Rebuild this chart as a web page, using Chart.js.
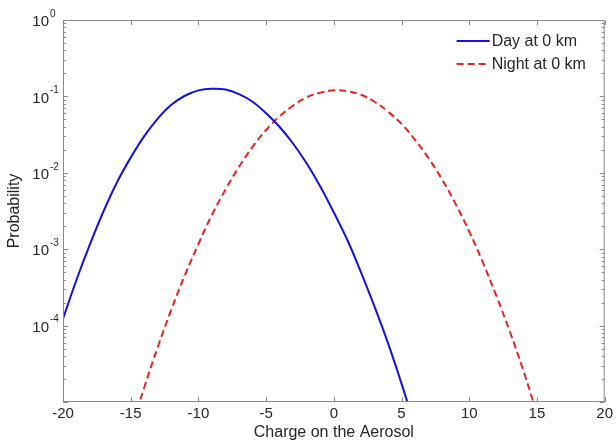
<!DOCTYPE html>
<html>
<head>
<meta charset="utf-8">
<script src="https://cdn.jsdelivr.net/npm/chart.js@4.4.1/dist/chart.umd.min.js"></script>
<style>
  html, body { margin: 0; padding: 0; background: #fff; }
  #wrap { width: 616px; height: 443px; position: relative; }
</style>
</head>
<body>
<div id="wrap"><canvas id="chart"></canvas></div>
<script>
// charge values (x) and probabilities
const dayCharge = [-20, -19, -18, -17, -16, -15, -14, -13, -12, -11, -10, -9, -8, -7, -6, -5, -4, -3, -2, -1, 0, 1, 2, 3, 4, 5, 6];
const dayProb = [1.23e-4, 3.98e-4, 1.17e-3, 3.16e-3, 7.59e-3, 1.58e-2, 3.02e-2, 5.13e-2, 7.76e-2, 1.02e-1, 1.20e-1, 1.26e-1, 1.23e-1, 1.07e-1, 8.51e-2, 6.03e-2, 3.98e-2, 2.40e-2, 1.32e-2, 6.61e-3, 3.02e-3, 1.32e-3, 5.01e-4, 1.78e-4, 5.89e-5, 1.74e-5, 4.68e-6];

const nightCharge = [-15, -14, -13, -12, -11, -10, -9, -8, -7, -6, -5, -4, -3, -2, -1, 0, 1, 2, 3, 4, 5, 6, 7, 8, 9, 10, 11, 12, 13, 14, 15];
const nightProb = [4.17e-6, 1.55e-5, 5.25e-5, 1.62e-4, 4.57e-4, 1.17e-3, 2.82e-3, 6.03e-3, 1.20e-2, 2.19e-2, 3.63e-2, 5.50e-2, 7.59e-2, 9.77e-2, 1.12e-1, 1.20e-1, 1.17e-1, 1.05e-1, 8.51e-2, 6.31e-2, 4.37e-2, 2.69e-2, 1.55e-2, 8.13e-3, 3.89e-3, 1.70e-3, 6.76e-4, 2.45e-4, 8.32e-5, 2.57e-5, 7.08e-6];

const xTicks = [-20, -15, -10, -5, 0, 5, 10, 15, 20];
const yLabelExps = [0, -1, -2, -3, -4];
const seriesNames = ['Day at 0 km', 'Night at 0 km'];

const FONT = '"Liberation Sans", Arial, sans-serif';
const TEXT = '#262626';
const FRAME = '#8a8a8a';

Chart.defaults.font.family = FONT;
Chart.defaults.color = TEXT;

const toPoints = (xs, ys) => xs.map((x, i) => ({ x, y: ys[i] }));

// frame, inward ticks, 10^n labels and the legend (matlab look)
const axisDecor = {
  id: 'axisDecor',
  afterDraw(chart) {
    const { ctx, chartArea: a, scales: { x, y } } = chart;
    ctx.save();

    ctx.strokeStyle = FRAME;
    ctx.lineWidth = 1;
    ctx.setLineDash([]);
    ctx.strokeRect(a.left + 0.5, a.top + 0.5, a.right - a.left - 1, a.bottom - a.top - 1);

    const seg = (x1, y1, x2, y2) => {
      ctx.beginPath();
      ctx.moveTo(x1, y1);
      ctx.lineTo(x2, y2);
      ctx.stroke();
    };

    xTicks.forEach((v) => {
      const px = Math.round(x.getPixelForValue(v)) + 0.5;
      seg(px, a.bottom, px, a.bottom - 5);
      seg(px, a.top, px, a.top + 5);
    });

    for (let e = -5; e < 0; e++) {
      for (let m = 1; m <= 9; m++) {
        const py = Math.round(y.getPixelForValue(m * Math.pow(10, e))) + 0.5;
        const len = m === 1 ? 5 : 3;
        seg(a.left, py, a.left + len, py);
        seg(a.right, py, a.right - len, py);
      }
    }

    ctx.fillStyle = TEXT;
    ctx.textBaseline = 'middle';
    yLabelExps.forEach((e) => {
      const py = y.getPixelForValue(Math.pow(10, e));
      ctx.font = '15px ' + FONT;
      ctx.textAlign = 'right';
      ctx.fillText('10', a.left - 14, py + 2);
      ctx.font = '10px ' + FONT;
      ctx.textAlign = 'left';
      ctx.fillText(String(e), a.left - 13, py - 6);
    });

    // legend
    const lx = a.right - 148;
    chart.data.datasets.forEach((ds, i) => {
      const ly = a.top + 21 + i * 23;
      ctx.strokeStyle = ds.borderColor;
      ctx.lineWidth = ds.borderWidth;
      ctx.setLineDash(ds.borderDash || []);
      seg(lx, ly, lx + 33, ly);
      ctx.setLineDash([]);
      ctx.fillStyle = TEXT;
      ctx.font = '16px ' + FONT;
      ctx.textAlign = 'left';
      ctx.fillText(ds.label, lx + 35, ly + 1);
    });

    ctx.restore();
  }
};

new Chart(document.getElementById('chart'), {
  type: 'line',
  data: {
    datasets: [
      {
        label: seriesNames[0],
        data: toPoints(dayCharge, dayProb),
        borderColor: '#1212e0',
        borderWidth: 2,
        pointRadius: 0,
        tension: 0.4,
        clip: 0
      },
      {
        label: seriesNames[1],
        data: toPoints(nightCharge, nightProb),
        borderColor: '#e42222',
        borderWidth: 2,
        borderDash: [7, 4],
        pointRadius: 0,
        tension: 0.4,
        clip: 0
      }
    ]
  },
  options: {
    responsive: true,
    maintainAspectRatio: false,
    animation: false,
    layout: { padding: { left: 3, right: 6, top: 20, bottom: 0 } },
    plugins: {
      legend: { display: false },
      tooltip: { enabled: false }
    },
    scales: {
      x: {
        type: 'linear',
        min: -20,
        max: 20,
        afterBuildTicks: (s) => { s.ticks = xTicks.map((v) => ({ value: v })); },
        afterFit: (s) => { s.height = 41; },
        grid: { display: false, drawTicks: false },
        border: { display: false },
        ticks: { font: { size: 15 }, padding: 3, color: TEXT, maxRotation: 0 },
        title: {
          display: true,
          text: 'Charge on the Aerosol',
          font: { size: 16 },
          color: TEXT,
          padding: { top: 0, bottom: 1 }
        }
      },
      y: {
        type: 'logarithmic',
        min: 1e-5,
        max: 1,
        afterFit: (s) => { s.width = 60; },
        grid: { display: false, drawTicks: false },
        border: { display: false },
        ticks: { display: false },
        title: {
          display: true,
          text: 'Probability',
          font: { size: 16 },
          color: TEXT,
          padding: { top: 2, bottom: 0 }
        }
      }
    }
  },
  plugins: [axisDecor]
});
</script>
</body>
</html>
